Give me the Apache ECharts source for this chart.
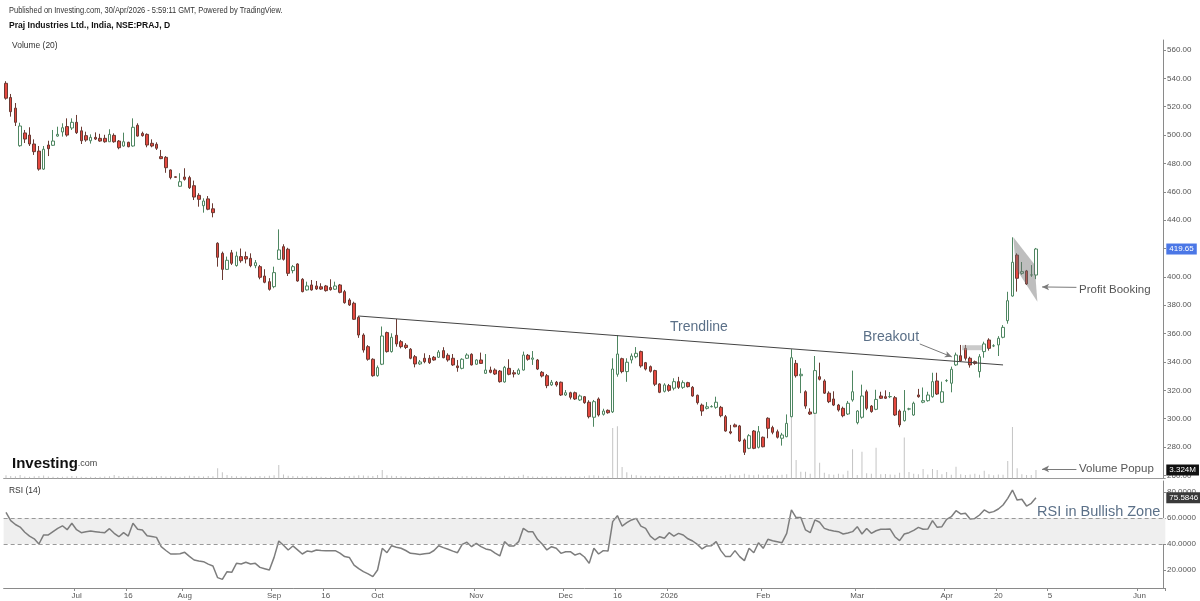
<!DOCTYPE html>
<html><head><meta charset="utf-8">
<script src="https://cdn.jsdelivr.net/npm/echarts@6/dist/echarts.min.js"></script>
<style>html,body{margin:0;padding:0;background:#fff}#c{width:1200px;height:601px}</style>
</head><body><div id="c"></div>
<script>
// ---- data (Praj Industries, NSE:PRAJ, daily) ----
const opens=[536.5,526.5,519,492.5,501.5,500,493.7,488.7,476,493,492.8,499.3,502.2,506,505,509,503,499.6,496,498.4,497.7,497.7,495.3,499.8,495.8,492.3,494.9,492.3,506.9,501.2,500.5,494.2,493.5,484.8,484.3,475.4,470.6,463.9,470.4,470,464.3,457.5,450.2,455,448,
423.7,416.6,405.3,417,408,414.3,414.3,413.1,407.9,407.2,400.6,396.6,393.1,412.4,421.3,419.5,404.4,409.1,398.3,390.8,394.3,393.6,393,393.6,392.5,391.3,394.3,389.6,383.7,381.4,
371.5,359,350.8,341.9,330.3,338.4,360.7,347.3,358.8,354.3,351.8,349,343.7,338.6,342.6,342.6,343.3,343.3,348,344.7,342.6,337.2,335.5,342.6,345.4,338.4,341.4,332,334.3,334.3,333.6,325.9,335.5,332.4,331.5,334.3,344.7,341.9,341.4,332.7,330.3,323.8,325.7,325.7,
316.7,318.3,318.3,313.2,315.5,311.6,301,313.9,303.1,305.9,304.8,331.3,342.3,333.2,341.4,343.7,347.3,339.5,336.7,333.9,324.5,319.3,323.3,321.5,326.1,322.1,325.4,322.1,316.5,309.6,307.3,308.4,308,308,301.4,290.8,295.6,294.9,285,279.1,291.3,279.8,286.9,300.3,293.7,290.8,286.2,287.3,
301.4,339,330.3,319,304.7,303.8,329.6,326.6,318,313.9,309.6,307.3,303.3,313.2,297.2,301,319,308.9,306.6,316,315.5,315.5,314.8,305.4,298.6,306.8,302.6,316.7,311.6,312.7,315.5,326.6,311.6,326.8,325,337.9,344.4,349.6,342.6,340.2,333.2,347.3,355.5,351.3,352,357.4,369.1,386.5,415.4,402.5,404.2,401.3,401.3];
const closes=[526,516.5,509,506.4,497.2,493.7,488.3,476,490,490.4,495.8,500.5,505.2,500,509,501.7,496,496.5,498.4,497.2,495.8,495.3,500.5,495.3,491.1,495.3,491.8,505.5,499.3,499.6,493,492.3,490.7,483.4,477,470,470.2,467.1,468.8,462.9,456.3,454.7,453.5,447.7,445.3,
413.8,405.3,411.7,409.6,414.7,411.4,412.6,407.9,410,399.7,396.2,391.2,403,419,412.4,402.5,407.2,397.1,389.6,393.6,390.8,391.5,391.4,390.3,391,393.6,389.1,381.8,380.2,370.1,
359,348.4,341.9,330.3,336,358.3,347.3,357.4,352.7,350.8,350.2,342.6,338.6,340,340.2,339.5,341.4,347,343,341.4,337.9,336,341.9,344.9,337.9,341.4,339,334.3,332.7,331.5,326.1,336.2,331.3,331.5,334.3,344.9,341.9,342.8,335,330.1,323.3,325.7,323.8,316.7,
318.3,315.1,313.9,316,311.3,301.4,312,302.6,305.4,304.2,335,345.6,333.2,339.8,344.2,346.1,337.2,335,333.4,324.3,318.6,323.8,320,326.1,322.1,325.4,322.6,316,311.3,305.4,308.4,308.6,311.6,302.1,291.3,289.9,294.3,284.3,276.3,288,279.1,290.8,280.2,293.2,290.4,286.9,288.5,296.7,
343,330.3,331.3,308.9,303.3,333.9,327.8,318,312,309.6,306.1,302.1,310.9,319,305.4,316,307.3,305,313.6,314.4,314.4,315.6,302.6,295.6,305.4,306.9,310.9,315.5,312.7,316.7,326.1,317.4,319,326.9,334.8,344.9,340.7,342.6,337.9,339,343.7,352.7,349.6,351.4,356.7,364.4,383.2,410.3,399,403.7,395,401.4,419.65];
const lows=[525,513,506.4,491.8,494.4,492.3,486,474.9,475.4,485.2,492.3,498.9,498.9,498.9,503.6,500.8,493.7,495.3,494,496.5,495.3,494.6,495.3,494.6,490,491.8,491.4,491.8,498.9,498.9,491.4,491.4,489.5,483,473.4,468.8,469.8,463.6,467.9,462,454.2,449.5,445.3,447,442,
407.2,397.8,404.9,408.4,407.2,410,409.5,406.8,406.1,398.3,395.5,390.3,392,411.9,411.5,400.6,402.5,396.6,389.1,390.3,390.3,390.8,390.8,389.6,390.3,390.8,388.4,381.1,379.5,369.6,
357,346.6,340.9,329.6,329.6,337.8,346.6,346.6,350.8,349.6,349.1,341.9,336.2,337.9,339.1,338.6,340.9,342.8,342.6,340.2,337.2,333.1,334.8,342.1,337.5,337.9,338.6,331.5,332,330.8,325.4,325.4,330.6,329.1,330.8,333.9,340.9,337.9,334.3,329.1,321.5,323.1,322.6,316,
316,313.6,313.2,312.5,310.5,300.2,294.3,301.5,302.2,303.5,304,329.6,332,326,339,342.6,336,334,332.5,323,318,318.5,319,320,321,321,322,315.5,310,302,306.5,308,307,301,290.8,289,294,283.6,274.4,278.5,278.5,279,279.8,286.2,289,286,281,286.9,
301,329,318,307,302.6,303.3,327,317.4,311,308.9,305,301,302.6,312,296,300,306,304.2,306,313.9,313.9,314.5,301.9,294,298,305.9,302,314.8,310.9,312,314.8,316.7,311,325.8,318.6,337.2,340,341,336,338,329,343,348,350.5,344.2,356.7,367,386,389.6,401.5,394.3,400,398.4];
const highs=[538,529,522.6,508.7,503.6,505.5,497,492.3,492.3,496,503.6,505.9,508.3,511.8,511.8,514.2,505.9,502.4,500.5,501.9,500.9,500.2,504.1,501.2,496.5,501.7,495.3,511.8,508.3,502.4,501.2,497,494.9,489.5,485.2,475.8,470.9,473.1,476.6,471.3,467.9,459,455.4,457,451.9,
424.4,417.8,414.3,419,417.8,420,417.8,416.6,411.9,408.4,405.4,399.1,407.2,433.5,423,420.5,408.4,409.6,399.1,396.6,397.8,397.1,395.5,394.3,398.3,396.6,395,390.8,384.9,382.5,
372.6,360.2,351.9,342.6,337.5,365,361.4,360.2,370.3,355.5,353.3,349.8,344.9,341.4,346.1,344.9,344.2,348.4,350.4,346.1,345.6,341.4,342.6,346.1,346.1,341.9,346.6,345.6,336.7,335.5,334.3,337.2,341.9,334.3,335.5,347.3,345.6,347.7,342.1,333.6,331.5,327.3,326.6,326.2,
320.2,319,319.1,317,316,313,313.2,315,307,306.5,342.6,359,343,342.6,346,350.5,348,340,337.5,334.5,325,325,324.5,328.5,329.5,327,326,323,317,310.7,311.7,309.5,315.5,309,302.6,295.6,296.6,295.6,286,289.1,292,294.8,287.4,301,295,292.3,290,303,
349,341.4,335.5,320,307.3,344.2,339.5,327.8,319.3,319.3,310.4,308.5,312.5,333.9,306,324,320.4,309.6,320.4,319,320,318.8,316,306.5,320.2,307.7,312,321,322,319,332.4,332.4,326.1,327.8,336.7,346.6,352,352,343.7,341,345.5,354.3,356.7,352.5,358.2,366,389.5,427.9,416.6,410.5,404.9,408.3,420.4];
// volume in millions
const volumes=[1.2,0.9,0.8,1.3,0.7,0.6,0.8,0.9,1.1,0.7,0.6,0.5,0.6,0.7,0.9,0.8,0.6,0.5,0.6,0.5,0.6,0.7,0.8,1.3,0.9,0.6,0.8,1.0,0.7,0.6,0.7,0.6,0.8,0.9,0.7,0.8,0.7,0.6,0.8,1.0,0.9,0.8,0.7,0.9,0.8,
4.0,2.4,1.3,0.9,0.8,0.7,0.8,0.6,0.7,0.9,0.8,1.0,1.2,5.3,1.5,
1.0,0.9,0.8,0.7,0.9,0.6,0.7,0.6,0.5,0.6,0.5,0.6,0.8,0.9,1.0,1.2,1.1,1.0,0.9,1.3,3.3,1.2,1.0,0.9,0.8,0.7,0.6,0.7,0.6,0.5,0.6,0.7,0.8,0.6,0.5,0.6,0.7,0.8,0.9,0.7,
0.6,0.7,0.6,0.5,0.6,0.8,1.0,0.7,0.6,0.8,1.4,0.9,0.7,0.6,0.7,0.8,0.6,0.7,0.6,0.8,0.7,0.6,0.7,0.8,1.1,1.2,1.0,0.8,0.9,
20.2,20.9,4.5,2.4,1.4,1.2,1.0,0.9,0.8,0.9,1.1,0.8,0.7,0.8,0.9,0.7,0.6,0.8,0.9,1.0,1.1,0.8,0.7,0.9,1.2,1.6,1.0,1.2,1.8,1.4,1.2,1.5,1.1,1.3,1.0,1.1,1.4,1.6,
24.6,7.3,2.6,2.6,1.8,26.0,6.2,2.2,1.6,1.4,1.8,1.5,3.0,11.6,1.3,10.6,2.0,1.8,12.2,1.6,1.7,1.5,1.4,2.2,16.4,2.5,1.8,1.6,3.7,1.5,3.7,3.3,1.6,2.5,1.4,4.6,1.6,1.3,1.5,1.8,1.4,3.0,1.6,1.2,1.5,1.4,6.9,20.6,4.0,1.6,1.3,1.3,3.324];
const rsi=[64.4,58,55,53,49,46,44,40,47,47,49.5,52,54,51,56,51,48.7,49.5,50,49.5,49,48.7,51.8,48.2,45.6,48.7,46.1,55.9,51.3,50.8,
46.4,45.8,45.1,38,35,32.3,32.3,32.5,33.6,30.5,27.7,27,26.4,24.5,23.1,14.1,12.8,18.7,18.2,25.1,24.6,25.9,24.6,25.1,22,21,20,29.7,42.3,39,
35.4,38.5,35.5,32.3,34.6,34,35.4,35,34.8,34.9,34.9,33,30.3,29.7,23.8,21,18.7,17,14.9,20,36.7,33.3,38.7,37.5,36.7,35,32.8,32.5,32,32.5,
32.8,35,38.7,37.2,36,34.5,33.3,39.7,41.3,37.9,40.5,38,36.2,35.4,33,30.8,41.8,38.5,38.5,41.8,52.1,49.5,49.5,43.6,40,35.4,37.9,36.7,32.8,34,
34.1,31.5,32.8,30,25.1,36.7,32.3,34.9,34.6,57.2,61.8,53.8,56.4,58.5,59.7,53.8,52,46.1,43.1,45.6,44.4,48.7,46.1,48.2,46.9,44,42.3,39.7,36.2,38.5,
38.7,41.8,34.9,30.3,30.3,34.9,30.3,27.2,36.7,33.3,41,36.7,43.6,42.5,41.8,41,48.2,66.2,60.3,60.3,50.8,48.7,58.5,56.7,52,50.8,50,49.5,47.7,48.5,
49.5,53.3,47.7,52,48.2,50.2,51.3,51.4,51.5,45.6,42.6,47.7,48.7,50.5,52.8,51.3,51.5,58,52.8,53.3,59,61,65.6,63.1,63.6,59.2,59.7,62.3,66.2,64.1,
64.9,66.9,70,75.1,81.5,73.8,74.4,69.2,71.3,75.5846];
const holidays=['2025-08-15','2025-08-27','2025-10-02','2025-10-22','2025-11-05','2025-12-25','2026-01-15','2026-01-26','2026-03-03','2026-03-26','2026-03-31','2026-04-03','2026-04-14'];
const tickDates=['2025-07-01','2025-07-16','2025-08-01','2025-09-01','2025-09-16','2025-10-01','2025-11-03','2025-12-01','2025-12-16','2026-01-01','2026-02-02','2026-03-02','2026-04-01','2026-04-20','2026-05-05','2026-06-01'];
const tickLabels=['Jul','16','Aug','Sep','16','Oct','Nov','Dec','16','2026','Feb','Mar','Apr','20','5','Jun'];
const priceTicks=[260,580,20];
const rsiBand=[40,60];
// annotations (index / price space)
const trendIdx=[75,212], trendPrice=[372.4,337.9];
const flagIdx=[214.2,218.7,219.3,214.7], flagPrice=[427.9,408.8,382.5,406.0];
const boxIdx=[203.3,207.6], boxPrice=[351.8,348.3];
const breakoutArrowIdx=[194.3,201.1], breakoutArrowPrice=[352.7,343.6];
const profitArrowIdx=[227.6,220.3], profitArrowPrice=[392.6,392.9];
const volArrowIdx=[227.6,220.3], volArrowPrice=[264.6,264.6];

// ---- categories: trading days from 2025-06-10, future slots are plain weekdays ----
const SLOTS=247;
const dates=[];
(function(){
  const d=new Date(Date.UTC(2025,5,10));
  while(dates.length<SLOTS){
    const s=d.toISOString().slice(0,10);
    const wd=d.getUTCDay();
    if(wd!==0&&wd!==6&&holidays.indexOf(s)<0) dates.push(s);
    d.setUTCDate(d.getUTCDate()+1);
  }
})();
const n=closes.length;
const candle=opens.map((o,i)=>[o,closes[i],lows[i],highs[i]]);

const FONT='"Liberation Sans", Arial, sans-serif';
const L=3.65, R=34.7, AXOFF=-2.3;
const tickFn=(i,v)=>tickDates.indexOf(v)>=0;
const HIDE={color:'rgba(0,0,0,0)',width:0};

const chart=echarts.init(document.getElementById('c'),null,{renderer:'canvas'});
const baseX={type:'category',data:dates,boundaryGap:true,axisLabel:{show:false},axisTick:{show:false},axisLine:{show:false},splitLine:{show:false}};
const option={
  animation:false,
  backgroundColor:'#ffffff',
  grid:[
    {left:L,right:R,top:40,bottom:601-475.4},
    {left:L,right:R,top:380,bottom:601-478.3},
    {left:L,right:R,top:481,bottom:13}
  ],
  xAxis:[
    Object.assign({},baseX,{gridIndex:0}),
    Object.assign({},baseX,{gridIndex:1,axisLine:{show:true,onZero:false,lineStyle:{color:'#9a9a9a',width:1}}}),
    Object.assign({},baseX,{gridIndex:2,
      axisLine:{show:true,onZero:false,lineStyle:{color:'#8a8a8a',width:1}},
      axisTick:{show:true,interval:tickFn,length:3,lineStyle:{color:'#8a8a8a'}},
      axisLabel:{show:true,interval:tickFn,formatter:(v)=>tickLabels[tickDates.indexOf(v)],color:'#555',fontSize:8,fontFamily:FONT,margin:4}}),
    {type:'value',gridIndex:0,min:-0.5,max:SLOTS-0.5,show:false}
  ],
  yAxis:[
    {type:'value',gridIndex:0,position:'right',offset:AXOFF,min:priceTicks[0],max:567.05,interval:priceTicks[2],
      axisLine:{show:true,onZero:false,lineStyle:{color:'#8a8a8a'}},axisTick:{show:true,length:3,lineStyle:{color:'#8a8a8a'}},
      splitLine:{show:false},
      axisLabel:{showMaxLabel:false,formatter:(v)=>v.toFixed(2),color:'#555',fontSize:8,fontFamily:FONT,margin:4}},
    {type:'value',gridIndex:1,position:'right',offset:AXOFF,min:0,max:39.4,show:true,
      axisLine:{show:true,onZero:false,lineStyle:{color:'#8a8a8a'}},axisTick:{show:false},axisLabel:{show:false},splitLine:{show:false}},
    {type:'value',gridIndex:2,position:'right',offset:AXOFF,min:6.15,max:88.46,splitNumber:5,
      axisLine:{show:true,onZero:false,lineStyle:{color:'#8a8a8a'}},axisTick:{show:true,length:3,lineStyle:{color:'#8a8a8a'}},
      splitLine:{show:false},
      axisLabel:{showMinLabel:false,showMaxLabel:false,formatter:(v)=>v.toFixed(4),color:'#555',fontSize:8,fontFamily:FONT,margin:4}}
  ],
  series:[
    {type:'bar',name:'Volume',xAxisIndex:1,yAxisIndex:1,data:volumes,barWidth:1,itemStyle:{color:'#c4c4c4'},z:1,silent:true,
      markLine:{silent:true,symbol:'none',lineStyle:HIDE,
        label:{position:'end',distance:1,formatter:()=>volumes[n-1].toFixed(3)+'M',color:'#fff',backgroundColor:'#111',padding:[2,3,1,3],fontSize:8,fontFamily:FONT},
        data:[{yAxis:volumes[n-1]}]}},
    {type:'candlestick',name:'PRAJ',xAxisIndex:0,yAxisIndex:0,data:candle,barWidth:3,z:3,
      itemStyle:{color:'#ffffff',color0:'#e5483f',borderColor:'#4e8661',borderColor0:'#6b3a33',borderWidth:1},
      markLine:{silent:true,symbol:'none',lineStyle:HIDE,
        label:{position:'end',distance:1,formatter:()=>closes[n-1].toFixed(2),color:'#fff',backgroundColor:'#4b77e6',padding:[2,3,1,3],fontSize:8,fontFamily:FONT},
        data:[{yAxis:closes[n-1]}]}},
    {type:'line',name:'Trendline',xAxisIndex:3,yAxisIndex:0,data:trendIdx.map((x,i)=>[x,trendPrice[i]]),
      showSymbol:false,symbol:'none',lineStyle:{color:'#444',width:1},z:4,silent:true},
    {type:'custom',name:'Flag',xAxisIndex:3,yAxisIndex:0,data:[0],z:5,silent:true,
      renderItem:(p,api)=>({type:'group',children:[
        {type:'polygon',shape:{points:flagIdx.map((x,i)=>api.coord([x,flagPrice[i]]))},style:{fill:'rgba(110,110,110,0.45)'}},
        {type:'polygon',shape:{points:[[boxIdx[0],boxPrice[0]],[boxIdx[1],boxPrice[0]],[boxIdx[1],boxPrice[1]],[boxIdx[0],boxPrice[1]]].map(c=>api.coord(c))},style:{fill:'rgba(150,150,150,0.5)'}}
      ]})},
    {type:'line',name:'Arrows',xAxisIndex:3,yAxisIndex:0,data:[],silent:true,
      markLine:{silent:true,symbol:['none','arrow'],symbolSize:[5,7],label:{show:false},
        lineStyle:{color:'#7a7a7a',width:1,type:'solid'},
        data:[
          [{coord:[breakoutArrowIdx[0],breakoutArrowPrice[0]]},{coord:[breakoutArrowIdx[1],breakoutArrowPrice[1]]}],
          [{coord:[profitArrowIdx[0],profitArrowPrice[0]]},{coord:[profitArrowIdx[1],profitArrowPrice[1]]}],
          [{coord:[volArrowIdx[0],volArrowPrice[0]]},{coord:[volArrowIdx[1],volArrowPrice[1]]}]
        ]}},
    {type:'line',name:'RSI',xAxisIndex:2,yAxisIndex:2,data:rsi,showSymbol:false,symbol:'none',
      lineStyle:{color:'#7d7d7d',width:1.5},z:3,silent:true,
      markArea:{silent:true,itemStyle:{color:'#efefef'},data:[[{yAxis:rsiBand[0]},{yAxis:rsiBand[1]}]]},
      markLine:{silent:true,symbol:'none',
        data:[
          {yAxis:rsiBand[0],lineStyle:{color:'#999',type:[4,3],width:1},label:{show:false}},
          {yAxis:rsiBand[1],lineStyle:{color:'#999',type:[4,3],width:1},label:{show:false}},
          {yAxis:rsi[n-1],lineStyle:HIDE,label:{show:true,position:'end',distance:1,formatter:()=>rsi[n-1].toFixed(4),color:'#fff',backgroundColor:'#3a3a3a',padding:[2,3,1,3],fontSize:8,fontFamily:FONT}}
        ]}}
  ],
  graphic:[
    {type:'text',x:9,y:11,scaleX:0.83,style:{text:'Published on Investing.com, 30/Apr/2026 - 5:59:11 GMT, Powered by TradingView.',fill:'#333',fontSize:9,fontFamily:FONT,verticalAlign:'middle'}},
    {type:'text',x:9,y:26,scaleX:0.95,style:{text:'Praj Industries Ltd., India, NSE:PRAJ, D',fill:'#111',fontSize:9,fontWeight:'bold',fontFamily:FONT,verticalAlign:'middle'}},
    {type:'text',x:12,y:46,scaleX:0.94,style:{text:'Volume (20)',fill:'#333',fontSize:9,fontFamily:FONT,verticalAlign:'middle'}},
    {type:'text',x:9,y:491,scaleX:0.94,style:{text:'RSI (14)',fill:'#333',fontSize:9,fontFamily:FONT,verticalAlign:'middle'}},
    {type:'text',x:12,y:464,style:{text:'{a|Investing}{b|.com}',verticalAlign:'middle',rich:{a:{fontSize:15,fontWeight:'bold',fill:'#111',fontFamily:FONT},b:{fontSize:9,fill:'#444',fontFamily:FONT}}}},
    {type:'text',x:670,y:327,style:{text:'Trendline',fill:'#5b7088',fontSize:14,fontFamily:FONT,verticalAlign:'middle'}},
    {type:'text',x:863,y:337,style:{text:'Breakout',fill:'#5b7088',fontSize:14,fontFamily:FONT,verticalAlign:'middle'}},
    {type:'text',x:1037,y:512,style:{text:'RSI in Bullish Zone',fill:'#5b7088',fontSize:14.5,fontFamily:FONT,verticalAlign:'middle'}},
    {type:'text',x:1079,y:290,style:{text:'Profit Booking',fill:'#555',fontSize:11.5,fontFamily:FONT,verticalAlign:'middle'}},
    {type:'text',x:1079,y:469,style:{text:'Volume Popup',fill:'#555',fontSize:11.5,fontFamily:FONT,verticalAlign:'middle'}}
  ]
};
chart.setOption(option);
</script></body></html>
